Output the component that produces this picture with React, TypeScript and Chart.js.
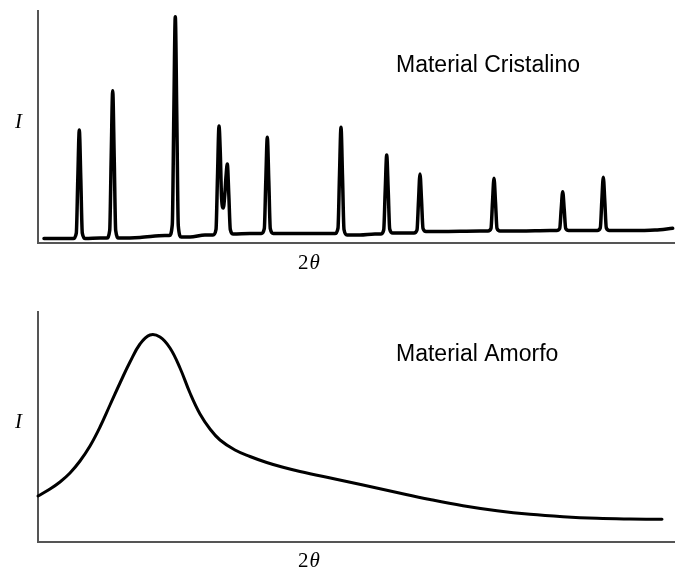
import React, { useEffect, useRef } from "react";
import { Chart, registerables } from "chart.js";

Chart.register(...registerables);

// ---------- data (2θ in degrees, intensity in arbitrary units) ----------
const thetaMin = 10;
const thetaMax = 73.7;

// Crystalline pattern: baseline points and sharp Bragg peaks
const crystalTheta = [
  10.6, 13.2,
  13.53, 13.83, 13.98, 14.13, 14.28, 14.43, 14.73,
  16.2,
  16.87, 17.17, 17.32, 17.47, 17.62, 17.77, 18.07,
  20.2, 22.7,
  23.13, 23.43, 23.58, 23.73, 23.88, 24.03, 24.33,
  25.2, 26.7,
  27.5, 27.8, 27.95, 28.1, 28.23, 28.36, 28.53, 28.68, 28.8, 28.93, 29.08, 29.23, 29.53,
  31.2,
  32.33, 32.63, 32.78, 32.93, 33.08, 33.23, 33.53,
  35.2, 39.2,
  39.7, 40.0, 40.15, 40.3, 40.45, 40.6, 40.9,
  42.2, 43.7,
  44.27, 44.57, 44.72, 44.87, 45.02, 45.17, 45.47,
  46.7,
  47.6, 47.9, 48.05, 48.2, 48.35, 48.5, 48.8,
  50.2, 54.2,
  55.0, 55.3, 55.45, 55.6, 55.75, 55.9, 56.2,
  58.2, 61.2,
  61.87, 62.17, 62.32, 62.47, 62.62, 62.77, 63.07,
  64.2,
  65.93, 66.23, 66.38, 66.53, 66.68, 66.83, 67.13,
  69.2, 71.7, 73.47,
];
const crystalIntensity = [
  2, 2,
  2, 4.7, 31.8, 56.25, 31.8, 4.7, 2,
  2.25,
  2.25, 5.95, 42.75, 75.9, 42.75, 5.95, 2.25,
  2.5, 3.5,
  3.5, 9, 63.5, 112.9, 63, 8.3, 2.75,
  2.75, 3.75,
  3.75, 6.5, 33, 58.25, 45, 22, 17.25, 24, 33, 39.25, 24, 6.5, 4.25,
  4.5,
  4.5, 6.9, 31, 52.6, 31, 6.9, 4.5,
  4.5, 4.5,
  4.5, 7.2, 33.9, 57.6, 33.2, 6.5, 3.75,
  3.75, 4.25,
  4.25, 6.25, 25.85, 43.75, 26.35, 6.75, 4.75,
  4.75,
  4.75, 6.25, 20.75, 34.25, 21.5, 7, 5.5,
  5.5, 5.75,
  5.75, 7.05, 20.25, 32.1, 20.25, 7.05, 5.75,
  5.75, 6,
  6, 7, 16.7, 25.4, 16.7, 7, 6,
  6,
  6, 7.3, 20.6, 32.6, 20.6, 7.3, 6,
  6, 6.25, 7.1,
];

// Amorphous pattern: one broad hump
const amorphTheta = [
  10, 11.2, 12.2, 13.2, 14.2, 15.2, 16.2, 17.2, 18.2, 19.2,
  20.2, 21.2, 22.2, 23.2, 24.2, 25.2, 26.2, 27.2, 28.2, 29.7,
  31.2, 32.87, 34.5, 36.2, 39.7, 42.5, 45.9, 49.2, 52.5, 55.9,
  59.2, 62.5, 65.9, 69.2, 72.4,
];
const amorphIntensity = [
  22.85, 26.35, 29.85, 34.35, 40.35, 47.85, 57.35, 68.35, 79.35, 89.85,
  98.85, 103.35, 102.35, 96.85, 86.85, 74.35, 63.85, 56.35, 50.85, 45.85,
  42.6, 39.6, 37.2, 35.1, 31.35, 28.35, 24.6, 21.1, 18, 15.5,
  13.7, 12.5, 11.7, 11.35, 11.2,
];

const crystalYMax = 115.75;
const amorphYMax = 115;

const crystalTitle = "Material Cristalino";
const amorphTitle = "Material Amorfo";
const yAxisLabel = "I";
const xAxisDigit = "2";
const xAxisSymbol = "θ";

// ---------- free text plugin ----------
const freeTextPlugin = {
  id: "freeText",
  afterDraw(chart: any, _args: any, opts: any) {
    const ctx = chart.ctx;
    ctx.save();
    ctx.fillStyle = "#000";
    ctx.textAlign = "left";
    ctx.textBaseline = "alphabetic";
    for (const item of opts.items || []) {
      let x = item.x;
      for (const part of item.parts) {
        ctx.font = part.font;
        ctx.fillText(part.text, x, item.y);
        x += ctx.measureText(part.text).width + (part.gap || 0);
      }
    }
    ctx.restore();
  },
};

const sansFont = "23px 'Liberation Sans', Arial, sans-serif";
const serifFont = "21px 'Liberation Serif', 'Times New Roman', serif";
const serifItalic = "italic 21px 'Liberation Serif', 'Times New Roman', serif";

function buildConfig(
  theta: number[],
  intensity: number[],
  yMax: number,
  padding: any,
  title: string,
  titlePos: number[],
  iPos: number[],
  thetaPos: number[],
  sharp: boolean
): any {
  const points = theta.map((t, i) => ({ x: t, y: intensity[i] }));
  const axisBorder = { display: true, color: "#555", width: 2 };
  return {
    type: "line",
    data: {
      datasets: [
        {
          data: points,
          borderColor: "#000",
          borderWidth: sharp ? 3.5 : 3,
          pointRadius: 0,
          fill: false,
          cubicInterpolationMode: sharp ? "monotone" : "default",
          tension: sharp ? 0 : 0.4,
          borderJoinStyle: "round",
          borderCapStyle: "round",
          clip: false,
        },
      ],
    },
    options: {
      responsive: false,
      animation: false,
      events: [],
      layout: { padding },
      plugins: {
        legend: { display: false },
        tooltip: { enabled: false },
        title: { display: false },
        freeText: {
          items: [
            { x: titlePos[0], y: titlePos[1], parts: [{ text: title, font: sansFont }] },
            { x: iPos[0], y: iPos[1], parts: [{ text: yAxisLabel, font: serifItalic }] },
            {
              x: thetaPos[0],
              y: thetaPos[1],
              parts: [
                { text: xAxisDigit, font: serifFont, gap: 1 },
                { text: xAxisSymbol, font: serifItalic },
              ],
            },
          ],
        },
      },
      scales: {
        x: {
          type: "linear",
          min: thetaMin,
          max: thetaMax,
          grid: { display: false, drawTicks: false },
          ticks: { display: false },
          border: axisBorder,
        },
        y: {
          type: "linear",
          min: 0,
          max: yMax,
          grid: { display: false, drawTicks: false },
          ticks: { display: false },
          border: axisBorder,
        },
      },
    },
    plugins: [freeTextPlugin],
  };
}

export default function App() {
  const topRef = useRef<HTMLCanvasElement | null>(null);
  const bottomRef = useRef<HTMLCanvasElement | null>(null);

  useEffect(() => {
    if (!topRef.current || !bottomRef.current) return;
    const top = new Chart(
      topRef.current,
      buildConfig(
        crystalTheta,
        crystalIntensity,
        crystalYMax,
        { left: 38, right: 0, top: 11, bottom: 44.5 },
        crystalTitle,
        [396, 72],
        [15, 128],
        [298, 269],
        true
      )
    );
    const bottom = new Chart(
      bottomRef.current,
      buildConfig(
        amorphTheta,
        amorphIntensity,
        amorphYMax,
        { left: 38, right: 0, top: 24.7, bottom: 31.3 },
        amorphTitle,
        [396, 74],
        [15, 141],
        [298, 280],
        false
      )
    );
    return () => {
      top.destroy();
      bottom.destroy();
    };
  }, []);

  return (
    <div
      style={{
        position: "fixed",
        left: 0,
        top: 0,
        width: 675,
        height: 573,
        background: "#fff",
      }}
    >
      <canvas
        ref={topRef}
        width={675}
        height={287}
        style={{ position: "absolute", left: 0, top: 0, width: 675, height: 287 }}
      />
      <canvas
        ref={bottomRef}
        width={675}
        height={286}
        style={{ position: "absolute", left: 0, top: 287, width: 675, height: 286 }}
      />
    </div>
  );
}
